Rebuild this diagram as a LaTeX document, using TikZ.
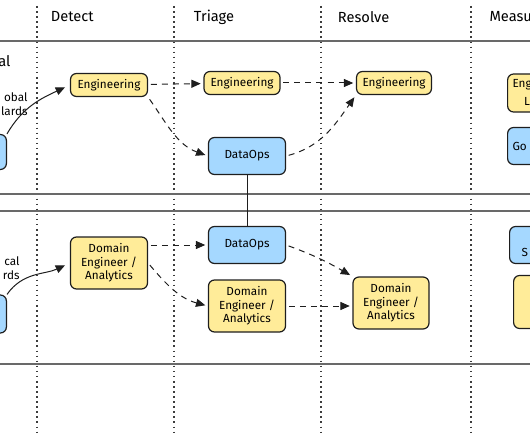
\documentclass[tikz,border=0pt]{standalone}
\usepackage{fontspec}
\setmainfont{Fira Sans}
\usetikzlibrary{arrows.meta}

\tikzset{every picture/.style={line width=0.75pt}}
\tikzset{
  yellowbox/.style={draw={rgb, 255:red, 30; green, 30; blue, 30 }, fill={rgb, 255:red, 255; green, 236; blue, 153 }, rounded corners=4.5, line width=0.9, align=center, inner sep=1, font=\fontsize{8.8}{10}\selectfont},
  bluebox/.style={yellowbox, fill={rgb, 255:red, 165; green, 216; blue, 255 }},
  flow/.style={draw={rgb, 255:red, 30; green, 30; blue, 30 }, dash pattern=on 4.5 off 3.8, -{Triangle[length=7,width=6]}, shorten <=2, shorten >=2},
  feed/.style={draw={rgb, 255:red, 30; green, 30; blue, 30 }, -{Triangle[length=7,width=6]}, shorten >=4},
  column/.style={dash pattern=on 1.2 off 2.6, line width=1.1, draw={rgb, 255:red, 60; green, 60; blue, 60 }},
  lane/.style={line width=1.7, draw={rgb, 255:red, 105; green, 105; blue, 105 }},
  header/.style={anchor=west, font=\fontsize{11}{13}\selectfont},
  side/.style={font=\fontsize{8.8}{10.5}\selectfont, align=right, anchor=east, inner sep=0}
}

\begin{document}
\begin{tikzpicture}[x=0.75pt,y=0.75pt,yscale=-1,xscale=1]
\useasboundingbox (0,0) rectangle (530,442);
\clip (0,0) rectangle (530,442);

%Columns
\foreach \cx in {37,174,321,471}
  \draw [column] (\cx,6) -- (\cx,436);
%Lanes
\foreach \ly in {41,194,211,364}
  \draw [lane] (0,\ly) -- (530,\ly);

% Text Node
\node [header] (hDetect) at (46,17) {Detect};
\node [header] (hTriage) at (189,17) {Triage};
\node [header] (hResolve) at (333,17) {Resolve};
\node [header, inner sep=0] (hMeasure) at (489,17) {Measu};
% Text Node
\node [side, font=\fontsize{11}{13}\selectfont] (gloTitle) at (11,61) {al};
\node [side] (gloText) at (28,104) {obal\\lards};
\node [side] (locText) at (20,268) {cal\\rds};

%Shape: Boxes (sizes in pt)
\node [bluebox, anchor=east, minimum width=30, minimum height=26.25] (gloA) at (7,152) {};
\node [bluebox, anchor=east, minimum width=30, minimum height=28.5] (locA) at (7,314) {};

\node [yellowbox, minimum width=57.75, minimum height=17.25] (engA) at (109,85) {Engineering};
\node [yellowbox, minimum width=57, minimum height=17.25] (engB) at (242,83) {Engineering};
\node [yellowbox, minimum width=56.25, minimum height=17.25] (engC) at (394,83) {Engineering};
\node [bluebox, minimum width=57.75, minimum height=27.75] (opsA) at (247,156) {DataOps};
\node [bluebox, minimum width=57.75, minimum height=27.75] (opsB) at (247,245) {DataOps};
\node [yellowbox, minimum width=57.75, minimum height=39] (domA) at (109,263) {Domain\\Engineer /\\Analytics};
\node [yellowbox, minimum width=57.75, minimum height=39] (domB) at (247,306) {Domain\\Engineer /\\Analytics};
\node [yellowbox, minimum width=57, minimum height=39] (domC) at (391,303) {Domain\\Engineer /\\Analytics};

\node [yellowbox, anchor=west, minimum width=45, minimum height=28.5] (engD) at (507,93) {};
\node [bluebox, anchor=west, minimum width=45, minimum height=27.75] (govD) at (507,146) {};
\node [bluebox, anchor=west, minimum width=45, minimum height=27.75] (selfD) at (509,245) {};
\node [yellowbox, anchor=west, minimum width=45, minimum height=39.75] (domD) at (513,302) {};
\node [anchor=west, font=\fontsize{8.8}{10}\selectfont, inner sep=0] (engDa) at (512,85) {Eng};
\node [font=\fontsize{8.8}{10}\selectfont, inner sep=0] (engDb) at (527,101) {L};
\node [anchor=west, font=\fontsize{8.8}{10}\selectfont, inner sep=0] (govDa) at (512,146) {Go};
\node [anchor=west, font=\fontsize{8.8}{10}\selectfont, inner sep=0] (selfDa) at (521,252) {S};

%Straight Lines (angles mirrored by yscale=-1)
\draw [feed] (gloA.north east) to [out=-60, in=155] (engA.west);
\draw [feed] (locA.north east) to [out=-55, in=155] (domA.west);

\draw [flow] (engA) -- (engB);
\draw [flow] (engB) -- (engC);
\draw [flow] (engA.south east) to [out=55, in=200] (opsA.west);
\draw [flow] (opsA.east) to [out=-15, in=125] (engC.south west);
\draw [draw={rgb, 255:red, 30; green, 30; blue, 30 }] (opsA) -- (opsB);
\draw [flow] (domA.north east |- opsB.west) -- (opsB.west);
\draw [flow] (domA.east) to [out=50, in=195] (domB.west);
\draw [flow] (opsB.east) to [out=20, in=210] (domC.north west);
\draw [flow] (domB.east) -- (domB.east -| domC.west);

\end{tikzpicture}
\end{document}
